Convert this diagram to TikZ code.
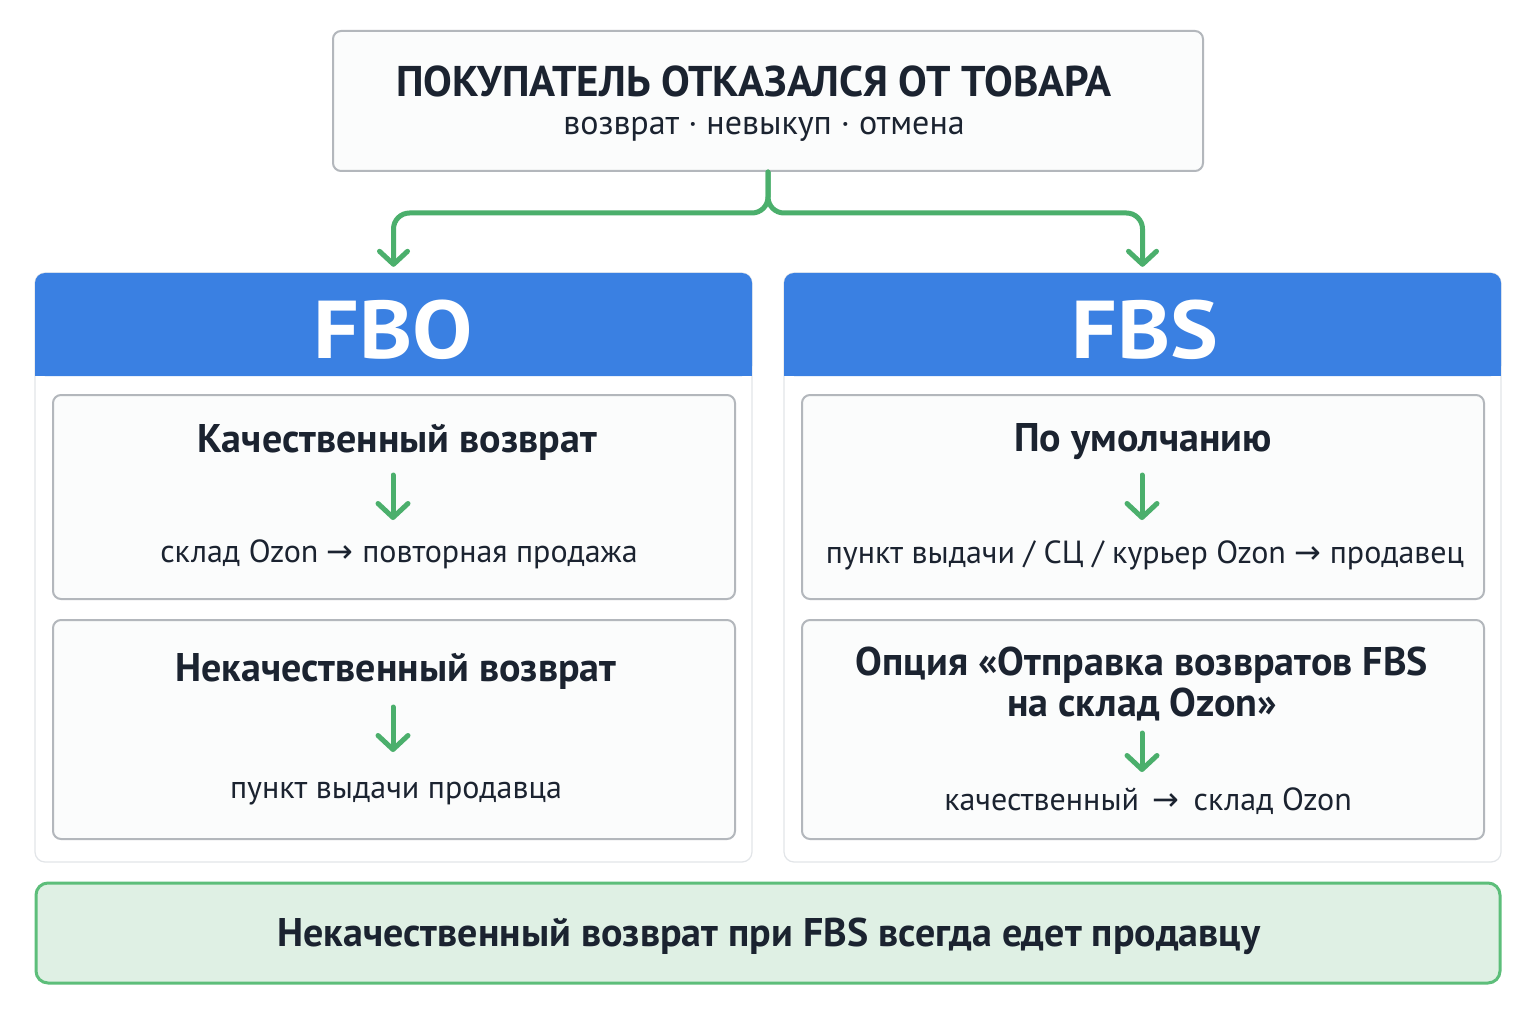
\documentclass[tikz,border=0pt]{standalone}
\usepackage{fontspec}
\setmainfont{PT Sans}
\newfontfamily\symf{DejaVu Sans}
\newfontfamily\widef[FakeStretch=1.1]{PT Sans}
\usetikzlibrary{arrows.meta}
\definecolor{txt}{HTML}{1B2330}
\definecolor{grn}{HTML}{4BAF6C}
\definecolor{blu}{HTML}{3A80E2}
\definecolor{bord}{HTML}{B3B7BC}
\definecolor{panelb}{HTML}{E2E5E8}
\definecolor{boxfill}{HTML}{FBFCFC}
\definecolor{notefill}{HTML}{DFF0E4}
\definecolor{noteb}{HTML}{5DBE7A}
\newcommand{\rarr}{{\symf\char"2192}}
\begin{document}
\begin{tikzpicture}[x=1pt,y=-1pt,
  topbox/.style={draw=bord, line width=2pt, fill=boxfill, rounded corners=8pt, minimum width=870pt, minimum height=140pt, inner sep=0},
  panel/.style={draw=panelb, line width=1.2pt, fill=white, rounded corners=10pt, minimum width=717pt, minimum height=589pt, inner sep=0},
  hdr/.style={fill=blu, rounded corners=10pt, minimum width=717pt, minimum height=103pt, inner sep=0},
  inbox/.style={draw=bord, line width=2pt, fill=boxfill, rounded corners=8pt, minimum width=682pt, inner sep=0},
  note/.style={draw=noteb, line width=3pt, fill=notefill, rounded corners=12pt, minimum width=1464pt, minimum height=100pt, inner sep=0},
  hb/.style={font=\fontsize{40}{41}\selectfont\bfseries, text=txt, inner sep=0, align=center},
  rg/.style={font=\fontsize{32}{36}\selectfont, text=txt, inner sep=0},
  big/.style={font=\widef\fontsize{82}{82}\selectfont\bfseries, text=white, inner sep=0},
  conn/.style={draw=grn, line width=5pt, rounded corners=16pt, line cap=round, -{Straight Barb[length=13pt,width=28pt,line cap=round,line join=round]}},
  arr/.style={draw=grn, line width=5pt, line cap=round, -{Straight Barb[length=14pt,width=30pt,line cap=round,line join=round]}}
]
\useasboundingbox (0,0) rectangle (1536,1024);
\fill[white] (0,0) rectangle (1536,1024);

% top box
\node[topbox] (top) at (768,101) {};
\node[font=\fontsize{43}{46}\selectfont\bfseries, text=txt, inner sep=0] (title) at (754,81) {ПОКУПАТЕЛЬ ОТКАЗАЛСЯ ОТ ТОВАРА};
\node[font=\fontsize{34}{36}\selectfont, text=txt, inner sep=0] (sub) at (764,129) {возврат · невыкуп · отмена};

% panels
\node[panel] (pL) at (393.5,567.5) {};
\node[panel] (pR) at (1142.5,567.5) {};
\node[hdr] (hL) at (393.5,324.5) {};
\fill[blu] (35,340) rectangle (752,376);
\node[hdr] (hR) at (1142.5,324.5) {};
\fill[blu] (784,340) rectangle (1501,376);
\node[big] (fbo) at (393,330) {FBO};
\node[big] (fbs) at (1145,330) {FBS};

% connectors
\coordinate (split) at (768,213);
\draw[conn] (top.south) -- (split) -| ([yshift=6pt]hL.north);
\draw[conn] (top.south) -- (split) -| ([yshift=6pt]hR.north);

% FBO boxes
\node[inbox, minimum height=204pt] (b1) at (394,497) {};
\node[hb] (h1) at (397,442) {Качественный возврат};
\node[rg] (t1) at (399,554) {склад Ozon \rarr{} повторная продажа};
\draw[arr, shorten <=33pt, shorten >=34pt] (h1.center -| 393,0) -- (t1.center -| 393,0);

\node[inbox, minimum height=219pt] (b2) at (394,729.5) {};
\node[hb] (h2) at (396,671) {Некачественный возврат};
\node[rg] (t2) at (396,794) {пункт выдачи продавца};
\draw[arr, shorten <=36pt, shorten >=42pt] (h2.center -| 393,0) -- (t2.center -| 393,0);

% FBS boxes
\node[inbox, minimum height=204pt] (b3) at (1143,497) {};
\node[hb] (h3) at (1143,442) {По умолчанию};
\node[rg] (t3) at (1145,555) {пункт выдачи / СЦ / курьер Ozon \rarr{} продавец};
\draw[arr, shorten <=33pt, shorten >=35pt] (h3.center -| 1142,0) -- (t3.center -| 1142,0);

\node[inbox, minimum height=219pt] (b4) at (1143,729.5) {};
\node[hb] (h4) at (1142,684) {Опция «Отправка возвратов FBS\\на склад Ozon»};
\node[rg] (t4) at (1148,801) {качественный \,\rarr\, склад Ozon};
\draw[arr, shorten <=49pt, shorten >=29pt] (h4.center -| 1142,0) -- (t4.center -| 1142,0);

% note
\node[note] (nt) at (768,933) {};
\node[hb] (ntt) at (769,936) {Некачественный возврат при FBS всегда едет продавцу};
\end{tikzpicture}
\end{document}
